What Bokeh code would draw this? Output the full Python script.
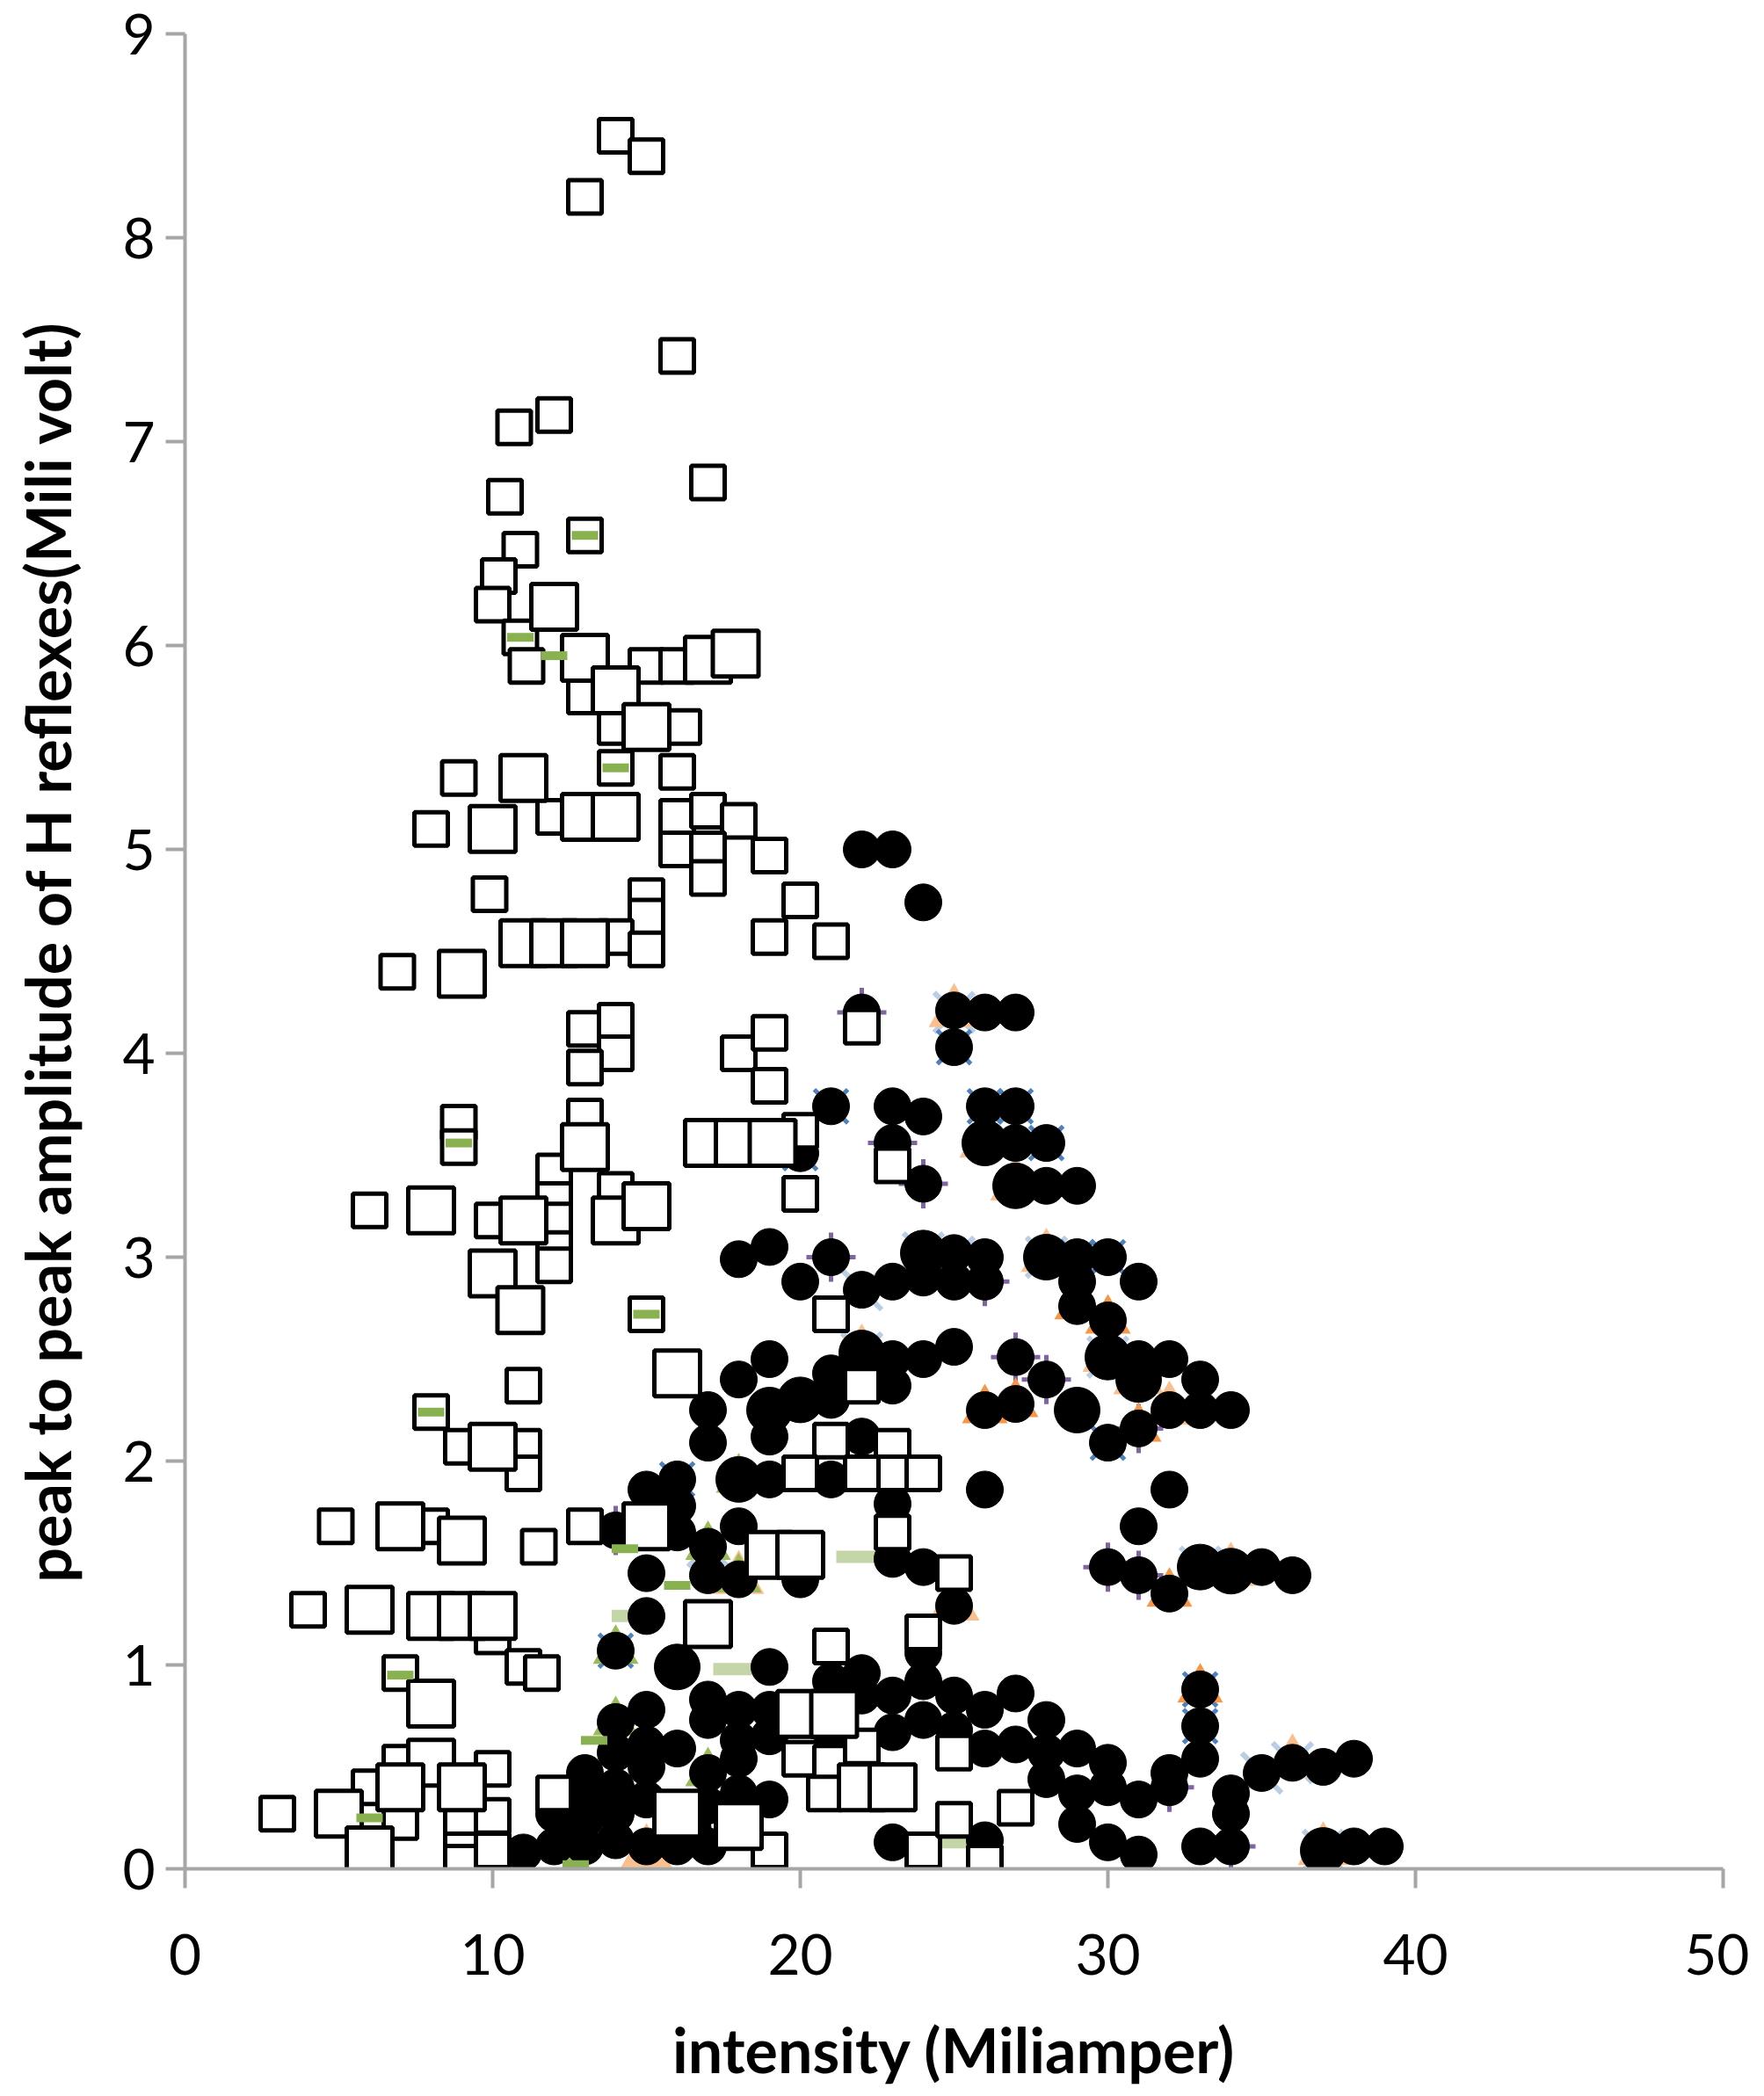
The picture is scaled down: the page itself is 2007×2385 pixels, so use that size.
from bokeh.plotting import figure
from bokeh.models import Range1d, FixedTicker
from bokeh.embed import file_html
from bokeh.resources import INLINE

# ---------------- data ----------------
# open squares, small
sq_small_x = [14, 15, 13, 16, 12, 10.7, 17, 10.4, 13, 10.9, 10.2, 10, 10.9, 11.1, 15, 16, 13, 14, 16.2,
              14, 16, 8.9, 8, 12, 16, 17, 18, 16, 17, 19, 17, 9.9, 15, 20, 15, 6.9, 14, 15, 19, 21,
              13, 14, 14, 13, 18, 19, 19, 8.9, 8.9, 13, 20, 12, 12, 14, 6, 10, 12, 12, 12, 20, 21, 15,
              22, 11, 8, 9, 11, 11, 21, 23, 23, 24, 20, 22, 4.9, 8, 13, 11.5, 23, 25, 4, 10, 11, 11.6,
              7, 21, 24, 20, 21, 22, 25, 20.8, 7, 6, 10, 12, 3, 7, 9, 10, 9, 9, 10, 19, 24, 25, 26, 27,
              23, 22]
sq_small_y = [8.5, 8.4, 8.2, 7.42, 7.13, 7.07, 6.8, 6.73, 6.54, 6.47, 6.34, 6.2, 6.04, 5.9, 5.9, 5.9, 5.75,
              5.6, 5.6, 5.4, 5.38, 5.35, 5.1, 5.16, 5.16, 5.19, 5.14, 5.0, 5.0, 4.97, 4.86, 4.78, 4.77,
              4.75, 4.67, 4.4, 4.57, 4.51, 4.57, 4.55, 4.12, 4.16, 4.0, 3.93, 4.0, 4.1, 3.84, 3.66, 3.54,
              3.69, 3.62, 3.42, 3.28, 3.33, 3.23, 3.18, 3.18, 3.04, 2.96, 3.31, 2.72, 2.72, 2.37, 2.37,
              2.24, 2.07, 2.07, 1.94, 2.1, 2.07, 1.94, 1.94, 1.94, 1.94, 1.68, 1.68, 1.68, 1.58, 1.65,
              1.45, 1.27, 1.14, 0.99, 0.96, 0.96, 1.09, 1.16, 0.54, 0.52, 0.6, 0.57, 0.37, 0.52, 0.4,
              0.49, 0.37, 0.27, 0.23, 0.23, 0.26, 0.09, 0.03, 0.09, 0.09, 0.09, 0.24, 0.03, 0.3,
              3.45, 4.13]

# open squares, large
sq_large_x = [12, 13, 17, 17.9, 14, 15, 11, 10, 13, 14, 9, 11, 12, 13, 13, 17, 18, 19.1, 14, 15, 8, 11,
              10, 10.9, 16, 10, 7, 9, 15, 19, 20, 6, 8, 9, 10, 17, 8, 20, 21.1, 22, 23, 8, 7, 9, 5, 6,
              16, 18]
sq_large_y = [6.19, 5.94, 5.93, 5.96, 5.78, 5.6, 5.35, 5.1, 5.16, 5.16, 4.39, 4.54, 4.54, 4.54, 3.54,
              3.56, 3.56, 3.56, 3.18, 3.25, 3.23, 3.18, 2.92, 2.74, 2.43, 2.07, 1.68, 1.61, 1.68, 1.54,
              1.54, 1.27, 1.24, 1.24, 1.24, 1.2, 0.81, 0.76, 0.76, 0.4, 0.4, 0.52, 0.4, 0.4, 0.27,
              0.09, 0.27, 0.21]

# filled circles
circ_x = [22, 23, 24, 22, 25, 26, 27, 25, 21, 23, 24, 26, 27, 23, 27, 28, 20, 28, 29, 24,
          18, 19, 21, 25, 26, 29, 30, 20, 22, 23, 24, 25, 26, 29, 31, 29, 30,
          19, 22, 23, 24, 25, 27, 31, 32, 18, 21, 28, 33, 17, 21, 23, 26, 27, 32, 33, 34,
          17, 19, 22, 30, 31, 16, 15, 19, 21, 23, 26, 32, 16, 18, 14, 31, 16, 17,
          15, 17, 18, 20, 23, 24, 30, 31, 32, 35, 36, 15, 25, 14, 19, 24, 24, 33, 21, 22,
          17, 18, 22, 23, 25, 27, 14, 15, 17, 19, 24, 26, 28, 33, 14, 15, 16, 18, 19, 21,
          23, 25, 27, 29, 26, 13, 14, 15, 17, 18, 28, 28, 30, 32, 33, 35, 36, 37, 38, 34,
          29, 30, 32, 31, 12, 13, 14, 15, 17, 18, 19, 29, 34, 11, 12, 13, 14, 15, 16, 17,
          13, 23, 26, 30, 31, 33, 34, 38, 39, 12.5, 16.5]
circ_y = [5.0, 5.0, 4.74, 4.2, 4.21, 4.2, 4.2, 4.03, 3.74, 3.74, 3.69, 3.74, 3.74, 3.56, 3.56, 3.56,
          3.51, 3.35, 3.35, 3.36,
          2.99, 3.05, 3.0, 3.02, 3.0, 3.0, 3.0, 2.88, 2.84, 2.88, 2.9, 2.88, 2.88, 2.88, 2.88,
          2.76, 2.69,
          2.5, 2.53, 2.5, 2.5, 2.56, 2.51, 2.5, 2.5, 2.4, 2.43, 2.4, 2.4, 2.25, 2.3, 2.37, 2.25,
          2.28, 2.25, 2.25, 2.25,
          2.09, 2.12, 2.12, 2.09, 2.16, 1.91, 1.86, 1.91, 1.91, 1.79, 1.86, 1.86, 1.78, 1.68,
          1.66, 1.68, 1.65, 1.58,
          1.45, 1.44, 1.42, 1.42, 1.52, 1.48, 1.48, 1.44, 1.35, 1.48, 1.44, 1.24, 1.29, 1.07,
          0.99, 1.06, 0.92, 0.88, 0.92, 0.96,
          0.83, 0.78, 0.85, 0.85, 0.85, 0.86, 0.72, 0.78, 0.73, 0.78, 0.73, 0.78, 0.73, 0.7,
          0.57, 0.61, 0.59, 0.63, 0.65, 0.67,
          0.67, 0.68, 0.61, 0.59, 0.59, 0.47, 0.4, 0.5, 0.47, 0.54, 0.57, 0.44, 0.52, 0.47,
          0.54, 0.47, 0.52, 0.5, 0.54, 0.37,
          0.37, 0.4, 0.4, 0.34, 0.27, 0.34, 0.27, 0.34, 0.31, 0.37, 0.34, 0.22, 0.27, 0.08,
          0.11, 0.11, 0.14, 0.11, 0.11, 0.11,
          0.24, 0.13, 0.14, 0.13, 0.07, 0.11, 0.11, 0.11, 0.11, 0.2, 0.2]

# larger filled circles
circ_large_x = [26, 27, 24, 28, 30, 31, 19, 20, 29, 18, 33, 34, 16, 37, 22]
circ_large_y = [3.56, 3.35, 3.02, 3.0, 2.51, 2.4, 2.25, 2.3, 2.25, 1.91, 1.48, 1.46, 0.99, 0.09, 2.53]

# hidden series peeking out behind the main markers
green_x = [13, 10.9, 12, 14, 8.9, 15, 8, 7, 6, 14.3, 16, 13.3, 12.7]
green_y = [6.54, 6.04, 5.95, 5.4, 3.56, 2.72, 2.24, 0.95, 0.25, 1.57, 1.39, 0.63, 0.02]

green_tri_x = [14, 16, 17, 18, 18, 14, 12.5, 19, 17]
green_tri_y = [1.07, 1.65, 1.58, 1.91, 1.42, 0.72, 0.1, 0.65, 0.47]

pale_green_x = [21.8, 17.8, 24.8, 14.5]
pale_green_y = [1.53, 0.98, 0.13, 1.24]

salmon_x = [25, 26, 27, 28, 22, 30, 31, 32, 34, 37, 25, 15, 36, 18]
salmon_y = [4.2, 3.56, 3.35, 3.0, 2.53, 2.51, 2.4, 2.25, 1.46, 0.09, 1.29, 0.08, 0.52, 1.42]

orange_x = [29, 30, 26, 27, 31, 32, 33]
orange_y = [2.76, 2.69, 2.25, 2.28, 2.16, 1.35, 0.88]

blue_x = [21, 26, 27, 28, 25, 20, 29, 30, 30, 33, 33, 16, 14]
blue_y = [3.74, 3.74, 3.74, 3.56, 4.03, 3.51, 3.0, 3.0, 2.09, 0.88, 0.7, 1.91, 1.07]

purple_x = [22, 23, 24, 21, 26, 27, 28, 31, 14, 34, 32, 30, 31]
purple_y = [4.2, 3.56, 3.36, 3.0, 2.88, 2.51, 2.4, 2.16, 1.66, 0.11, 0.4, 1.48, 1.44]

lightblue_x = [25, 24, 28, 25, 22, 30, 35, 36, 37, 22, 17, 33]
lightblue_y = [4.2, 3.02, 3.0, 3.0, 2.53, 2.51, 0.47, 0.52, 0.09, 2.84, 1.58, 1.48]

x_ticks = [0, 10, 20, 30, 40, 50]
y_ticks = [0, 1, 2, 3, 4, 5, 6, 7, 8, 9]

# ---------------- figure ----------------
p = figure(width=1990, height=2376, output_backend="svg", toolbar_location=None,
           x_range=Range1d(0, 50), y_range=Range1d(0, 9),
           min_border_left=210, min_border_right=30, min_border_top=38, min_border_bottom=243)
p.outline_line_color = None
p.xgrid.grid_line_color = None
p.ygrid.grid_line_color = None
p.background_fill_color = "white"

axis_col = "#A6A6A6"
for ax in (p.xaxis[0], p.yaxis[0]):
    ax.axis_line_color = axis_col
    ax.axis_line_width = 4
    ax.major_tick_line_color = axis_col
    ax.major_tick_line_width = 4
    ax.major_tick_out = 22
    ax.major_tick_in = 0
    ax.minor_tick_line_color = None
    ax.major_label_text_font = "Lato"
    ax.major_label_text_font_size = "64px"
    ax.major_label_text_color = "black"
    ax.axis_label_text_font = "Lato"
    ax.axis_label_text_font_style = "bold"
    ax.axis_label_text_font_size = "70px"
    ax.axis_label_text_color = "black"

p.xaxis.ticker = FixedTicker(ticks=x_ticks)
p.yaxis.ticker = FixedTicker(ticks=y_ticks)
p.xaxis.axis_label = "intensity (Miliamper)"
p.yaxis.axis_label = "peak to peak amplitude of H reflexes(Mili volt)"
p.xaxis.major_label_standoff = 52
p.yaxis.major_label_standoff = 12
p.xaxis.axis_label_standoff = 40
p.yaxis.axis_label_standoff = 40

# hidden series
p.scatter(lightblue_x, lightblue_y, marker="x", size=64, line_color="#B9CDE5", line_width=6)
p.scatter(blue_x, blue_y, marker="x", size=54, line_color="#4F81BD", line_width=5)
p.scatter(purple_x, purple_y, marker="cross", size=56, line_color="#8064A2", line_width=5)
p.scatter(salmon_x, salmon_y, marker="triangle", size=58, fill_color="#FABF8F", line_color=None)
p.scatter(orange_x, orange_y, marker="triangle", size=52, fill_color="#F79646", line_color=None)
p.scatter(green_tri_x, green_tri_y, marker="triangle", size=52, fill_color="#9BBB59", line_color=None)
p.scatter(pale_green_x, pale_green_y, marker="dash", size=44, line_color="#C4D6A8", line_width=14)

# filled circles
p.scatter(circ_x, circ_y, marker="circle", size=42, fill_color="black", line_color="black", line_width=1)
p.scatter(circ_large_x, circ_large_y, marker="circle", size=52, fill_color="black", line_color="black",
          line_width=1)

# open squares
p.scatter(sq_small_x, sq_small_y, marker="square", size=38, fill_color="white", line_color="black",
          line_width=5)
p.scatter(sq_large_x, sq_large_y, marker="square", size=52, fill_color="white", line_color="black",
          line_width=5)

# green dashes inside squares
p.scatter(green_x, green_y, marker="dash", size=30, line_color="#8AB150", line_width=10)

open("out.html", "w").write(file_html(p, INLINE))
